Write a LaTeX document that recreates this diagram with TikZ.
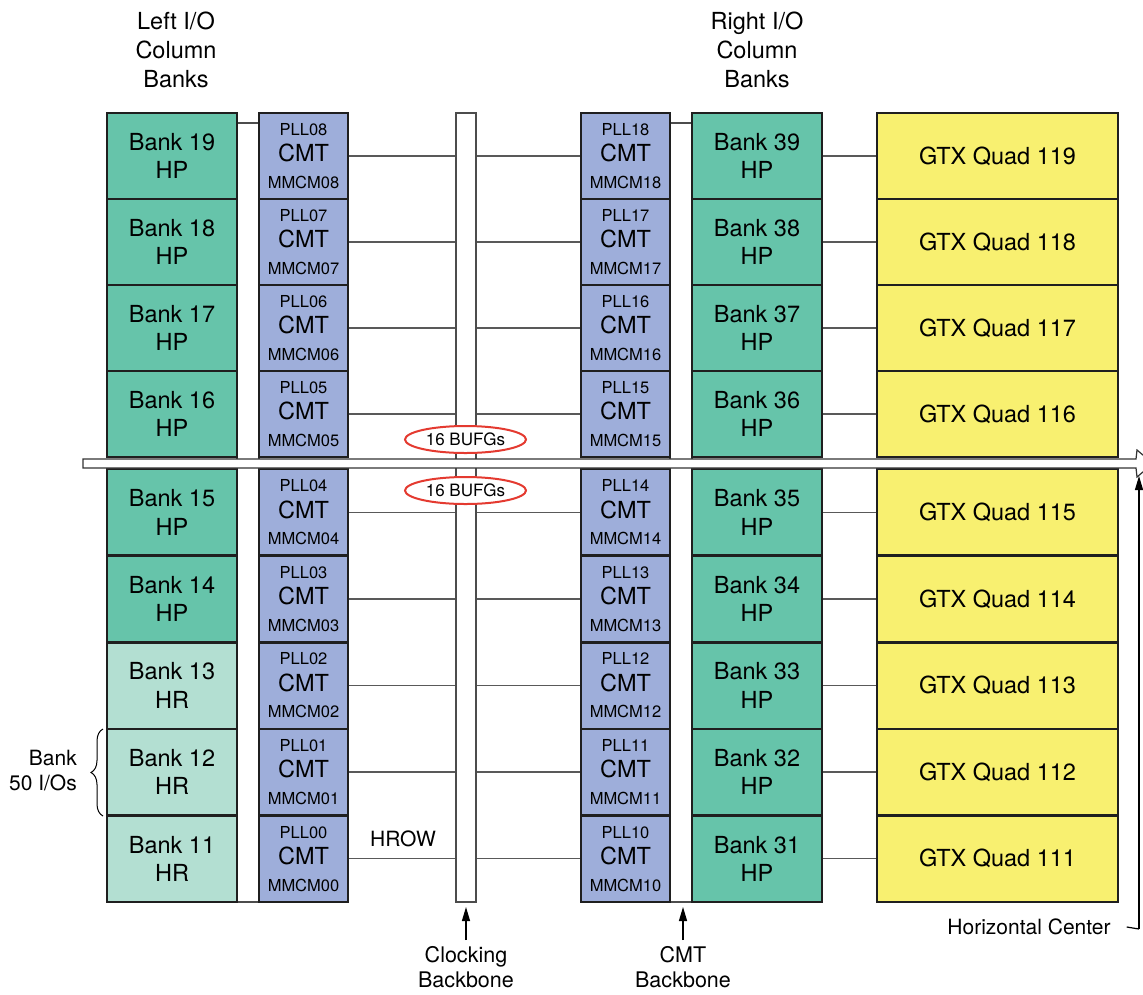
\documentclass[tikz,border=0pt]{standalone}
\usepackage{fontspec}
\setmainfont{TeX Gyre Heros}
\usetikzlibrary{shapes.geometric,decorations.pathreplacing,arrows.meta}
\definecolor{bankHP}{RGB}{102,196,170}
\definecolor{bankHR}{RGB}{179,223,210}
\definecolor{cmtblue}{RGB}{158,174,218}
\definecolor{gtxyellow}{RGB}{248,240,112}
\definecolor{bufgred}{RGB}{228,58,48}
\begin{document}
\begin{tikzpicture}[x=1pt,y=-1pt,
  boxbase/.style={draw=black!88,line width=2.6pt,inner sep=0pt,align=center},
  bank/.style={boxbase,minimum width=130pt,font=\fontsize{23.5}{28.5}\selectfont},
  cmtbox/.style={boxbase,fill=cmtblue,minimum width=89pt,font=\fontsize{23.5}{26.5}\selectfont},
  gtxbox/.style={boxbase,fill=gtxyellow,minimum width=241pt,font=\fontsize{23.5}{28}\selectfont},
  backbone/.style={draw=black!70,line width=1.3pt,fill=white,inner sep=0pt},
  conn/.style={draw=black!65,line width=1.4pt},
  bufg/.style={ellipse,draw=bufgred,line width=2pt,fill=white,minimum width=121pt,minimum height=27pt,inner sep=0pt,font=\fontsize{17}{20}\selectfont},
  toplabel/.style={inner sep=0pt,align=center,font=\fontsize{23.5}{29}\selectfont},
  botlabel/.style={inner sep=0pt,align=center,font=\fontsize{21.5}{25}\selectfont},
  arr/.style={line width=1.2pt,-{Triangle[length=14pt,width=8pt]}}
]
\useasboundingbox (0,0) rectangle (1143,994);

% backbones
\node[backbone,minimum width=20pt,minimum height=789pt] (clk) at (466,507.5) {};
\node[backbone,minimum width=22pt,minimum height=779pt] (lbb) at (248,512.5) {};
\node[backbone,minimum width=22pt,minimum height=779pt] (rbb) at (681,512.5) {};

% rows
\foreach \i/\yy/\hh/\lbk/\lkind/\cnl/\cnr/\rbk/\gq in {
  1/156/86/19/HP/08/18/39/119,
  2/242/86/18/HP/07/17/38/118,
  3/328/86/17/HP/06/16/37/117,
  4/414/86/16/HP/05/15/36/116,
  5/512.3/86.6/15/HP/04/14/35/115,
  6/598.9/86.6/14/HP/03/13/34/114,
  7/685.5/86.6/13/HR/02/12/33/113,
  8/772.1/86.6/12/HR/01/11/32/112,
  9/858.7/86.6/11/HR/00/10/31/111}{
  \node[bank,fill=bank\lkind,minimum height=\hh pt] (bl\i) at (172,\yy) {Bank \lbk\\\lkind};
  \node[cmtbox,minimum height=\hh pt] (cl\i) at (303.5,\yy) {{\fontsize{16.5}{26.5}\selectfont PLL\cnl}\\CMT\\{\fontsize{16.5}{26.5}\selectfont MMCM\cnl}};
  \node[cmtbox,minimum height=\hh pt] (cr\i) at (625.5,\yy) {{\fontsize{16.5}{26.5}\selectfont PLL\cnr}\\CMT\\{\fontsize{16.5}{26.5}\selectfont MMCM\cnr}};
  \node[bank,fill=bankHP,minimum height=\hh pt] (br\i) at (757,\yy) {Bank \rbk\\HP};
  \node[gtxbox,minimum height=\hh pt] (gtx\i) at (997.5,\yy) {GTX Quad \gq};
  \draw[conn] (cl\i.east) -- (cl\i.east -| clk.west);
  \draw[conn] (clk.east |- cr\i.west) -- (cr\i.west);
  \draw[conn] (br\i.east) -- (gtx\i.west);
}

% horizontal center strip
\draw[draw=black!80,line width=1.2pt,fill=white]
  (83,459) -- (1136,459) -- (1137,450) -- (1153,463.5) -- (1137,477) -- (1136,468) -- (83,468) -- cycle;

% BUFG ellipses
\node[bufg] (bufgA) at (465.5,439.5) {16 BUFGs};
\node[bufg] (bufgB) at (465.5,490.5) {16 BUFGs};

% labels
\node[toplabel] (leftlab) at (176,50) {Left I/O\\Column\\Banks};
\node[toplabel] (rightlab) at (757,50) {Right I/O\\Column\\Banks};
\node[inner sep=0pt,font=\fontsize{21}{25}\selectfont] (hrow) at (403,839) {HROW};
\node[botlabel] (clklab) at (466,967) {Clocking\\Backbone};
\node[botlabel] (cmtlab) at (683,967) {CMT\\Backbone};
\node[inner sep=0pt,font=\fontsize{21}{25}\selectfont] (hclab) at (1029,927) {Horizontal Center};
\node[inner sep=0pt,anchor=east,align=right,font=\fontsize{21}{25}\selectfont] (b50) at (77,771) {Bank\\50 I/Os};

\coordinate (clkfoot) at (466,907);
\coordinate (cmtfoot) at (683,907);
\coordinate (hcelbow) at (1139,929);
\coordinate (hctip) at (1139,476);
\draw[arr] ([yshift=6pt]clklab.north) -- (clkfoot);
\draw[arr] ([yshift=6pt]cmtlab.north) -- (cmtfoot);
\draw[line width=1.2pt] ([xshift=16pt]hclab.east) -- (hcelbow);
\draw[arr] (hcelbow) -- (hctip);

% brace
\coordinate (braceA) at (103,816);
\coordinate (braceB) at (103,729);
\draw[line width=1pt,decorate,decoration={brace,amplitude=12pt}] (braceA) -- (braceB);
\end{tikzpicture}
\end{document}
